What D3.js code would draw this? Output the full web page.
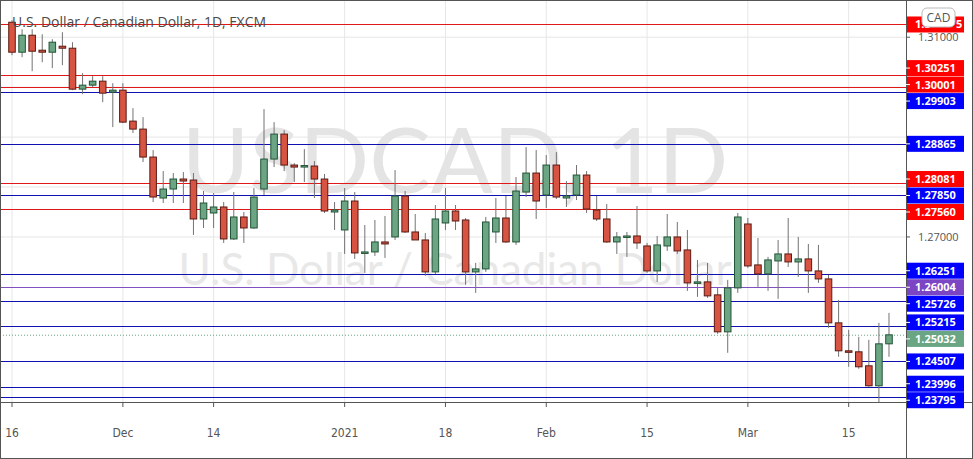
<!DOCTYPE html>
<html><head><meta charset="utf-8">
<script src="https://cdn.jsdelivr.net/npm/d3@7"></script>
<style>body{margin:0;background:#fff}svg{display:block;font-family:"Open Sans",Roboto,sans-serif}</style>
</head><body><svg id="c" width="973" height="459"></svg>
<script>
const dates=["2020-11-16","2020-11-17","2020-11-18","2020-11-19","2020-11-20","2020-11-23","2020-11-24","2020-11-25","2020-11-26","2020-11-27","2020-11-30","2020-12-01","2020-12-02","2020-12-03","2020-12-04","2020-12-07","2020-12-08","2020-12-09","2020-12-10","2020-12-11","2020-12-14","2020-12-15","2020-12-16","2020-12-17","2020-12-18","2020-12-21","2020-12-22","2020-12-23","2020-12-24","2020-12-28","2020-12-29","2020-12-30","2020-12-31","2021-01-04","2021-01-05","2021-01-06","2021-01-07","2021-01-08","2021-01-11","2021-01-12","2021-01-13","2021-01-14","2021-01-15","2021-01-18","2021-01-19","2021-01-20","2021-01-21","2021-01-22","2021-01-25","2021-01-26","2021-01-27","2021-01-28","2021-01-29","2021-02-01","2021-02-02","2021-02-03","2021-02-04","2021-02-05","2021-02-08","2021-02-09","2021-02-10","2021-02-11","2021-02-12","2021-02-15","2021-02-16","2021-02-17","2021-02-18","2021-02-19","2021-02-22","2021-02-23","2021-02-24","2021-02-25","2021-02-26","2021-03-01","2021-03-02","2021-03-03","2021-03-04","2021-03-05","2021-03-08","2021-03-09","2021-03-10","2021-03-11","2021-03-12","2021-03-15","2021-03-16","2021-03-17","2021-03-18","2021-03-19"];
const open=[1.3130,1.3070,1.3104,1.3074,1.3070,1.3082,1.3078,1.2996,1.3004,1.3012,1.2990,1.2994,1.2932,1.2916,1.2860,1.2778,1.2796,1.2816,1.2814,1.2736,1.2748,1.2760,1.2696,1.2740,1.2718,1.2796,1.2856,1.2906,1.2844,1.2840,1.2842,1.2816,1.2750,1.2714,1.2772,1.2668,1.2670,1.2690,1.2700,1.2782,1.2710,1.2694,1.2630,1.2728,1.2752,1.2734,1.2630,1.2636,1.2710,1.2738,1.2690,1.2790,1.2828,1.2784,1.2844,1.2778,1.2784,1.2824,1.2754,1.2736,1.2690,1.2700,1.2702,1.2682,1.2632,1.2682,1.2700,1.2674,1.2608,1.2610,1.2584,1.2510,1.2598,1.2726,1.2644,1.2626,1.2652,1.2666,1.2650,1.2656,1.2632,1.2616,1.2528,1.2472,1.2470,1.2442,1.2402,1.2486];
const high=[1.3134,1.3116,1.3116,1.3106,1.3096,1.3110,1.3090,1.3028,1.3022,1.3022,1.3008,1.3008,1.2958,1.2940,1.2874,1.2832,1.2828,1.2830,1.2828,1.2792,1.2788,1.2770,1.2790,1.2750,1.2798,1.2956,1.2930,1.2914,1.2848,1.2876,1.2852,1.2826,1.2770,1.2798,1.2790,1.2724,1.2734,1.2742,1.2834,1.2792,1.2746,1.2708,1.2764,1.2798,1.2764,1.2738,1.2648,1.2740,1.2778,1.2782,1.2820,1.2880,1.2874,1.2864,1.2870,1.2812,1.2844,1.2832,1.2782,1.2766,1.2710,1.2710,1.2762,1.2688,1.2702,1.2746,1.2730,1.2714,1.2654,1.2648,1.2598,1.2614,1.2748,1.2738,1.2698,1.2660,1.2694,1.2738,1.2700,1.2686,1.2684,1.2624,1.2574,1.2514,1.2500,1.2494,1.2528,1.2548];
const low=[1.3064,1.3060,1.3032,1.3050,1.3038,1.3044,1.2994,1.2986,1.3000,1.2970,1.2920,1.2928,1.2908,1.2850,1.2770,1.2768,1.2768,1.2768,1.2704,1.2718,1.2718,1.2688,1.2694,1.2688,1.2716,1.2784,1.2840,1.2832,1.2810,1.2810,1.2778,1.2748,1.2714,1.2666,1.2656,1.2628,1.2662,1.2658,1.2694,1.2708,1.2694,1.2622,1.2626,1.2714,1.2714,1.2604,1.2588,1.2630,1.2688,1.2688,1.2684,1.2780,1.2736,1.2758,1.2776,1.2760,1.2774,1.2748,1.2732,1.2688,1.2666,1.2660,1.2676,1.2628,1.2610,1.2672,1.2666,1.2592,1.2580,1.2578,1.2506,1.2468,1.2588,1.2638,1.2600,1.2592,1.2576,1.2640,1.2620,1.2588,1.2608,1.2518,1.2460,1.2440,1.2436,1.2400,1.2366,1.2460];
const close=[1.3070,1.3104,1.3072,1.3070,1.3090,1.3078,1.2996,1.3004,1.3012,1.2988,1.2994,1.2930,1.2916,1.2860,1.2780,1.2796,1.2816,1.2812,1.2736,1.2768,1.2760,1.2696,1.2740,1.2718,1.2780,1.2856,1.2906,1.2844,1.2840,1.2843,1.2816,1.2752,1.2754,1.2772,1.2668,1.2670,1.2690,1.2686,1.2782,1.2710,1.2694,1.2630,1.2736,1.2752,1.2732,1.2630,1.2636,1.2730,1.2738,1.2690,1.2792,1.2828,1.2772,1.2844,1.2780,1.2782,1.2824,1.2756,1.2736,1.2690,1.2700,1.2702,1.2688,1.2632,1.2684,1.2700,1.2672,1.2608,1.2610,1.2582,1.2510,1.2598,1.2740,1.2642,1.2626,1.2654,1.2666,1.2650,1.2656,1.2632,1.2616,1.2528,1.2472,1.2470,1.2440,1.2402,1.2486,1.2504];
const levels=[1.31255,1.30251,1.30001,1.29903,1.28865,1.28081,1.27850,1.27560,1.26251,1.26004,1.25726,1.25215,1.24507,1.23996,1.23795];
const levelKinds=["r","r","r","b","b","r","b","r","b","p","b","b","b","b","b"];
const priceTicks=[1.31,1.30,1.29,1.28,1.27];
const timeTicks=[["2020-11-16","16"],["2020-12-01","Dec"],["2020-12-14","14"],["2021-01-04","2021"],["2021-01-18","18"],["2021-02-01","Feb"],["2021-02-15","15"],["2021-03-01","Mar"],["2021-03-15","15"]];
const lastPrice=1.25032;

const svg=d3.select("#c");
const W=973,H=459,PR=906,PB=402;
const x=d3.scaleBand().domain(dates).range([12-5.04,889+5.04]).paddingInner(0.35).paddingOuter(0.175);
const y=d3.scaleLinear().domain([1.23795,1.29903]).range([397,92]);
const cx=d=>x(d)+x.bandwidth()/2;
const lc={r:"#e01818",b:"#1010b0",p:"#8050c0"};
const bc={r:"#ff0000",b:"#0000ff",p:"#7b45c4"};

const g=svg.append("g");
g.append("defs").append("clipPath").attr("id","cp").append("rect").attr("x",1).attr("y",1).attr("width",PR-1).attr("height",PB-1);
const pl=g.append("g").attr("clip-path","url(#cp)");
pl.selectAll(".gy").data(priceTicks).join("line").attr("x1",0).attr("x2",PR).attr("y1",d=>y(d)).attr("y2",d=>y(d)).attr("stroke","#e6e6e6");
pl.selectAll(".gx").data(timeTicks).join("line").attr("x1",d=>cx(d[0])).attr("x2",d=>cx(d[0])).attr("y1",0).attr("y2",PB).attr("stroke","#e6e6e6");
pl.append("text").attr("x",455).attr("y",193).attr("text-anchor","middle").attr("font-size",92).attr("fill","#e4e4e4").attr("font-family","Lato,sans-serif").text("USDCAD, 1D");
pl.append("text").attr("x",455).attr("y",285).attr("text-anchor","middle").attr("font-size",44).attr("fill","#e8e8e8").attr("font-family","Lato,sans-serif").text("U.S. Dollar / Canadian Dollar");
pl.selectAll(".lv").data(levels).join("line").attr("x1",0).attr("x2",PR).attr("y1",d=>Math.round(y(d))+.5).attr("y2",d=>Math.round(y(d))+.5).attr("stroke",(d,i)=>lc[levelKinds[i]]).attr("stroke-width",1);
pl.append("line").attr("x1",0).attr("x2",PR).attr("y1",y(lastPrice)).attr("y2",y(lastPrice)).attr("stroke","#6aa584").attr("stroke-dasharray","1,2");
const idx=d3.range(dates.length);
pl.selectAll(".wk").data(idx).join("line").attr("x1",i=>cx(dates[i])).attr("x2",i=>cx(dates[i])).attr("y1",i=>y(high[i])).attr("y2",i=>y(low[i])).attr("stroke","#737373");
pl.selectAll(".bd").data(idx).join("rect").attr("x",i=>x(dates[i])).attr("width",x.bandwidth())
 .attr("y",i=>y(Math.max(open[i],close[i]))).attr("height",i=>Math.max(1.5,Math.abs(y(open[i])-y(close[i]))))
 .attr("fill",i=>close[i]>=open[i]?"#6ba583":"#d75442").attr("stroke",i=>close[i]>=open[i]?"#225437":"#5b1a13").attr("stroke-width",1);
g.append("text").attr("x",12).attr("y",27).attr("font-size",14).attr("fill","#4a4a4a").text("U.S. Dollar / Canadian Dollar, 1D, FXCM");
g.append("rect").attr("x",0.5).attr("y",0.5).attr("width",W-1).attr("height",H-1).attr("fill","none").attr("stroke","#555");
g.append("line").attr("x1",PR+.5).attr("x2",PR+.5).attr("y1",0).attr("y2",H).attr("stroke","#555");
g.append("line").attr("x1",0).attr("x2",W).attr("y1",PB+.5).attr("y2",PB+.5).attr("stroke","#555");
let labs=levels.map((v,i)=>({v,c:bc[levelKinds[i]],y:y(v)}));
labs.push({v:lastPrice,c:"#6aa584",y:y(lastPrice)});
labs.sort((a,b)=>a.y-b.y);
for(let k=0;k<60;k++){for(let i=1;i<labs.length;i++){const d=labs[i].y-labs[i-1].y;if(d<16.5){const s=(16.5-d)/2;labs[i].y+=s;labs[i-1].y-=s;}}}
const vis=priceTicks.filter(t=>labs.every(l=>Math.abs(l.y-y(t))>11));
g.selectAll(".pt").data(vis).join("text").attr("x",918).attr("y",d=>y(d)+4).attr("font-size",11).attr("fill","#555").text(d=>d.toFixed(5));
g.selectAll(".ptk").data(priceTicks).join("line").attr("x1",PR).attr("x2",PR+4).attr("y1",d=>y(d)).attr("y2",d=>y(d)).attr("stroke","#555");
const lg=g.selectAll(".lb").data(labs.filter(l=>l.v!==1.31255)).join("g");
lg.append("rect").attr("x",PR+1).attr("y",d=>d.y-8).attr("width",57).attr("height",16).attr("fill",d=>d.c);
lg.append("line").attr("x1",PR).attr("x2",PR+4).attr("y1",d=>d.y).attr("y2",d=>d.y).attr("stroke","#fff");
lg.append("text").attr("x",PR+9).attr("y",d=>d.y+4).attr("font-size",11).attr("font-weight","bold").attr("fill","#fff").text(d=>d.v.toFixed(5));
const topLab=labs.find(l=>l.v===1.31255);
g.append("rect").attr("x",PR+1).attr("y",topLab.y-8).attr("width",57).attr("height",16).attr("fill",topLab.c);
g.append("text").attr("x",PR+9).attr("y",topLab.y+4).attr("font-size",11).attr("font-weight","bold").attr("fill","#fff").text("1.3");
g.append("text").attr("x",956).attr("y",topLab.y+4).attr("font-size",11).attr("font-weight","bold").attr("fill","#fff").text("5");
g.append("rect").attr("x",922).attr("y",8).attr("width",33).attr("height",19).attr("rx",5).attr("fill","#fff").attr("stroke","#bbb");
g.append("text").attr("x",938.5).attr("y",22).attr("text-anchor","middle").attr("font-size",12).attr("fill","#555").text("CAD");
g.selectAll(".tt").data(timeTicks).join("line").attr("x1",d=>cx(d[0])).attr("x2",d=>cx(d[0])).attr("y1",PB).attr("y2",PB+5).attr("stroke","#555");
g.selectAll(".tl").data(timeTicks).join("text").attr("x",d=>cx(d[0])).attr("y",PB+35).attr("text-anchor","middle").attr("font-size",12).attr("fill","#555").attr("font-family","'Liberation Sans Narrow','DejaVu Sans Condensed',sans-serif").text(d=>d[1]);
</script></body></html>
